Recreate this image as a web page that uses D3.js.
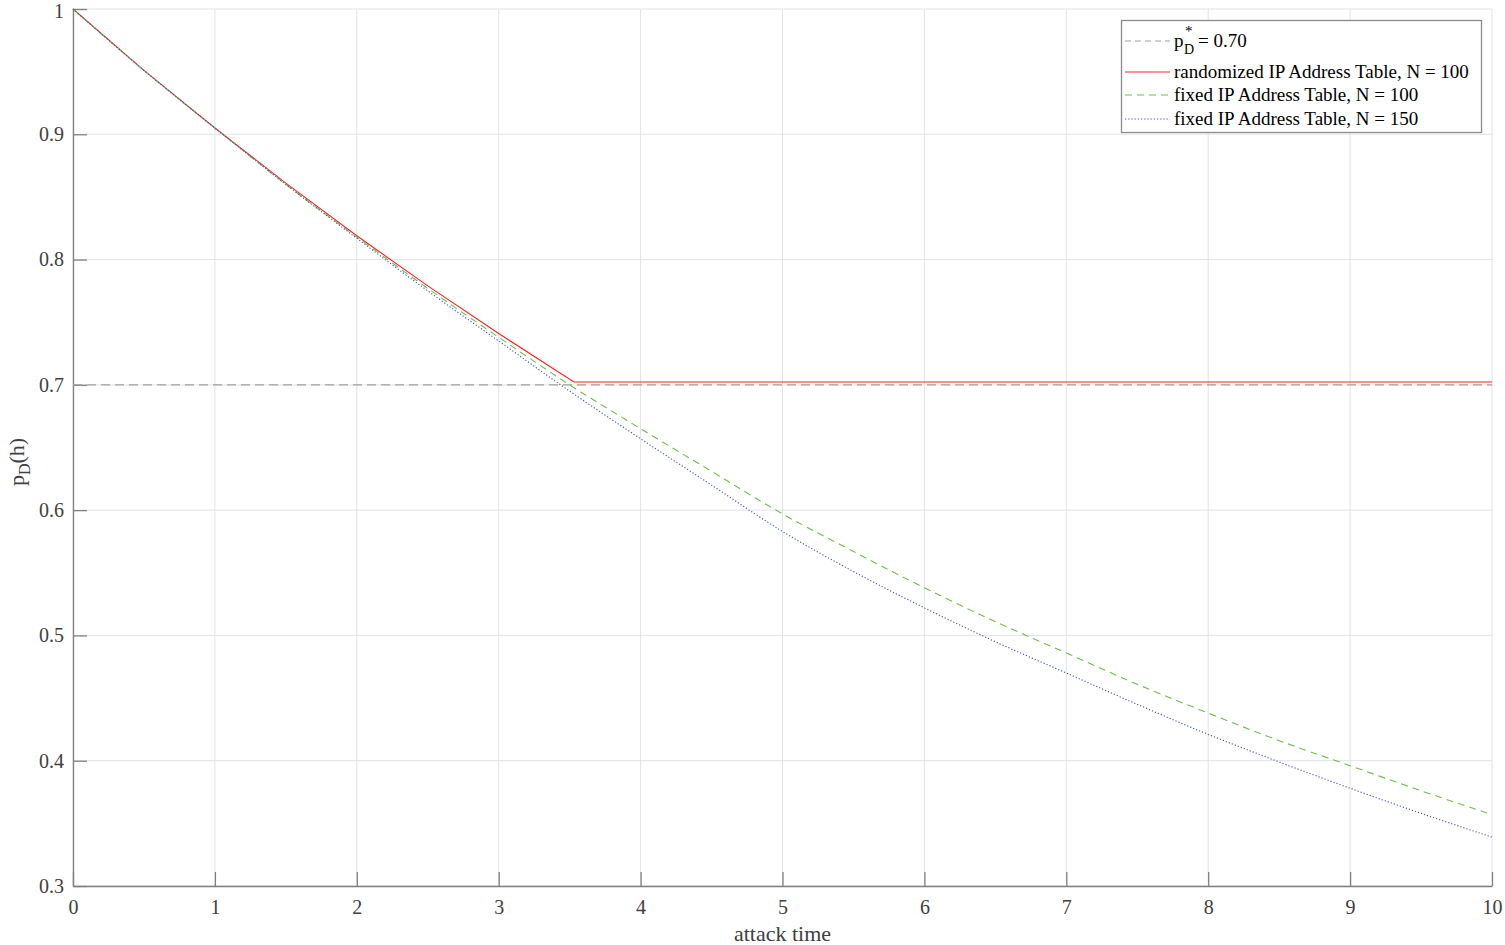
<!DOCTYPE html>
<html>
<head>
<meta charset="utf-8">
<script src="https://cdn.jsdelivr.net/npm/d3@7"></script>
<style>
  html, body { margin: 0; padding: 0; background: #ffffff; }
  svg { display: block; }
  text { font-family: "Liberation Serif", "Times New Roman", Times, serif; }
</style>
</head>
<body>
<svg id="chart" width="1505" height="945"></svg>
<script>
// ---------------- data ----------------
const xTicks = [0, 1, 2, 3, 4, 5, 6, 7, 8, 9, 10];
const yTicks = [0.3, 0.4, 0.5, 0.6, 0.7, 0.8, 0.9, 1];
const yTickLabels = ["0.3", "0.4", "0.5", "0.6", "0.7", "0.8", "0.9", "1"];

const threshold = 0.70;

const timeFixed = [0, 0.5, 1, 1.5, 2, 2.5, 3, 3.5, 4, 4.5, 5, 5.5, 6, 6.5, 7, 7.5, 8, 8.5, 9, 9.5, 10];
const fixed100 = [1, 0.951, 0.905, 0.860, 0.818, 0.777, 0.738, 0.700, 0.665, 0.631, 0.597, 0.567, 0.538, 0.511, 0.486, 0.461, 0.438, 0.416, 0.396, 0.376, 0.357];
const fixed150 = [1, 0.951, 0.905, 0.860, 0.817, 0.775, 0.735, 0.695, 0.657, 0.620, 0.583, 0.551, 0.522, 0.495, 0.470, 0.445, 0.421, 0.399, 0.378, 0.358, 0.339];

const timeRandom = [0, 0.5, 1, 1.5, 2, 2.5, 3, 3.53, 10];
const random100 = [1, 0.951, 0.905, 0.861, 0.819, 0.779, 0.741, 0.7023, 0.7023];

const legendLabels = ["= 0.70", "randomized IP Address Table, N = 100", "fixed IP Address Table, N = 100", "fixed IP Address Table, N = 150"];

// ---------------- layout ----------------
const svg = d3.select("#chart");
const L = 73, R = 1492, T = 9, B = 886;
const x = d3.scaleLinear().domain([0, 10]).range([L, R]);
const y = d3.scaleLinear().domain([0.3, 1]).range([B, T]);

const gridColor = "#e3e3e3";
const axisColor = "#808080";
const textColor = "#404040";
const fontFam = "'Liberation Serif', 'Times New Roman', Times, serif";

// grid
svg.append("g").selectAll("line").data(xTicks).join("line")
  .attr("x1", d => x(d)).attr("x2", d => x(d)).attr("y1", T).attr("y2", B)
  .attr("stroke", gridColor).attr("stroke-width", 1);
svg.append("g").selectAll("line").data(yTicks).join("line")
  .attr("x1", L).attr("x2", R).attr("y1", d => y(d)).attr("y2", d => y(d))
  .attr("stroke", gridColor).attr("stroke-width", 1);

// axes
const xAxis = d3.axisBottom(x).tickValues(xTicks).tickSizeInner(-14).tickSizeOuter(0).tickPadding(14).tickFormat(d3.format("d"));
const gx = svg.append("g").attr("transform", `translate(0,${B})`).call(xAxis)
  .attr("font-family", fontFam).attr("font-size", 20);
gx.select(".domain").attr("stroke", axisColor).attr("stroke-width", 1.3);
gx.selectAll(".tick line").attr("stroke", axisColor).attr("stroke-width", 1.3);
gx.selectAll(".tick text").attr("fill", textColor);

const yAxis = d3.axisLeft(y).tickValues(yTicks).tickSizeInner(-14).tickSizeOuter(0).tickPadding(9)
  .tickFormat((d, i) => yTickLabels[i]);
const gy = svg.append("g").attr("transform", `translate(${L},0)`).call(yAxis)
  .attr("font-family", fontFam).attr("font-size", 20);
gy.select(".domain").attr("stroke", axisColor).attr("stroke-width", 1.3);
gy.selectAll(".tick line").attr("stroke", axisColor).attr("stroke-width", 1.3);
gy.selectAll(".tick text").attr("fill", textColor)
  .attr("y", d => d === 1 ? 2 : 0);

// axis labels
svg.append("text").attr("x", x(5)).attr("y", 941).attr("text-anchor", "middle")
  .attr("fill", textColor).style("font-size", "22px").text("attack time");

const yl = svg.append("text").attr("transform", "translate(24,462) rotate(-90)")
  .attr("text-anchor", "middle").attr("fill", textColor).style("font-size", "22px");
yl.append("tspan").text("p");
yl.append("tspan").attr("dy", 6).style("font-size", "16px").text("D");
yl.append("tspan").attr("dy", -6).text("(h)");

// ---------------- series ----------------
const plot = svg.append("g");
const lineFixed = d3.line().x(d => x(d[0])).y(d => y(d[1])).curve(d3.curveMonotoneX);
const lineRandom = d3.line().x(d => x(d[0])).y(d => y(d[1])).curve(d3.curveLinear);

// threshold
plot.append("line").attr("x1", x(0)).attr("x2", x(10)).attr("y1", y(threshold)).attr("y2", y(threshold))
  .attr("stroke", "#a0a0a0").attr("stroke-width", 1.2).attr("stroke-dasharray", "9,5");

const colRed = "#ff2020", colGreen = "#6cbf4a", colBlue = "#3a55b8";

plot.append("path").datum(timeRandom.map((t, i) => [t, random100[i]]))
  .attr("d", lineRandom).attr("fill", "none").attr("stroke", colRed).attr("stroke-width", 1.1);
plot.append("path").datum(timeFixed.map((t, i) => [t, fixed100[i]]))
  .attr("d", lineFixed).attr("fill", "none").attr("stroke", colGreen).attr("stroke-width", 1.1)
  .attr("stroke-dasharray", "7,5");
plot.append("path").datum(timeFixed.map((t, i) => [t, fixed150[i]]))
  .attr("d", lineFixed).attr("fill", "none").attr("stroke", colBlue).attr("stroke-width", 1.1)
  .attr("stroke-dasharray", "1.2,2");

// ---------------- legend ----------------
const lg = svg.append("g");
lg.append("rect").attr("x", 1121.5).attr("y", 20.5).attr("width", 360).attr("height", 112)
  .attr("fill", "#ffffff").attr("stroke", "#8a8a8a").attr("stroke-width", 1.3);

const sx1 = 1125, sx2 = 1170, tx = 1174;
const rowLineY = [41, 72, 95, 119];
const rowTextY = [47, 78, 101, 125];
const rowStyles = [
  { c: "#a0a0a0", dash: "6,4" },
  { c: colRed, dash: null },
  { c: colGreen, dash: "7,5" },
  { c: colBlue, dash: "1.2,2" }
];
rowStyles.forEach((s, i) => {
  lg.append("line").attr("x1", sx1).attr("x2", sx2).attr("y1", rowLineY[i]).attr("y2", rowLineY[i])
    .attr("stroke", s.c).attr("stroke-width", 1.1).attr("stroke-dasharray", s.dash);
});

// row 0: p_D^* = 0.70
lg.append("text").attr("x", tx).attr("y", rowTextY[0]).attr("fill", "#000").style("font-size", "19px").text("p");
lg.append("text").attr("x", tx + 10).attr("y", rowTextY[0] + 7).attr("fill", "#000").style("font-size", "14px").text("D");
lg.append("text").attr("x", tx + 11).attr("y", rowTextY[0] - 11).attr("fill", "#000").style("font-size", "15px").text("*");
lg.append("text").attr("x", tx + 24).attr("y", rowTextY[0]).attr("fill", "#000").style("font-size", "19px").text(legendLabels[0]);

for (let i = 1; i < 4; i++) {
  lg.append("text").attr("x", tx).attr("y", rowTextY[i]).attr("fill", "#000").style("font-size", "19px").text(legendLabels[i]);
}
</script>
</body>
</html>
